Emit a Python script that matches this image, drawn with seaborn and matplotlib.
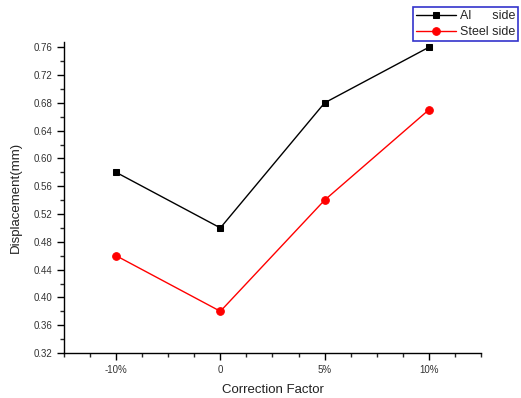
import matplotlib
matplotlib.use('Agg')
import matplotlib.pyplot as plt
import seaborn as sns
from matplotlib.ticker import MultipleLocator, AutoMinorLocator

# Data
factors = ['-10%', '0', '5%', '10%']
al_side = [0.58, 0.50, 0.68, 0.76]
steel_side = [0.46, 0.38, 0.54, 0.67]

sns.set_style('ticks')
plt.rcParams['font.family'] = ['Liberation Sans', 'DejaVu Sans']

fig = plt.figure(figsize=(5.21, 3.98), dpi=100)
ax = fig.add_axes([0.1228, 0.1131, 0.8004, 0.7821])

pos = list(range(len(factors)))
sns.lineplot(x=pos, y=al_side, ax=ax, color='black', marker='s', markersize=5,
             markeredgecolor='black', linewidth=1, label='Al      side')
sns.lineplot(x=pos, y=steel_side, ax=ax, color='red', marker='o', markersize=5.5,
             markeredgecolor='red', linewidth=1, label='Steel side')

ax.set_xlim(-0.5, 3.5)
ax.set_ylim(0.32, 0.768)
ax.set_xticks(pos)
ax.set_xticklabels(factors)
ax.xaxis.set_minor_locator(MultipleLocator(0.25))
ax.yaxis.set_major_locator(MultipleLocator(0.04))
ax.yaxis.set_minor_locator(AutoMinorLocator(2))
ax.yaxis.set_major_formatter(plt.FormatStrFormatter('%.2f'))

ax.tick_params(axis='both', which='major', direction='out', length=5, width=1,
               labelsize=7, colors='black', labelcolor='#333333')
ax.tick_params(axis='x', which='major', pad=4)
ax.tick_params(axis='both', which='minor', direction='out', length=3, width=1)

for side in ['top', 'right']:
    ax.spines[side].set_visible(False)
for side in ['left', 'bottom']:
    ax.spines[side].set_linewidth(1)
    ax.spines[side].set_color('black')

ax.set_xlabel('Correction Factor', fontsize=9.5, color='#222222', labelpad=6)
ax.set_ylabel('Displacement(mm)', fontsize=9.5, color='#222222', labelpad=8)

ax.get_legend().remove()
handles, labels = ax.get_legend_handles_labels()
leg = fig.legend(handles, labels, loc='upper right', bbox_to_anchor=(0.995, 0.983),
                 prop={'size': 9}, frameon=True, fancybox=False, handlelength=3.2,
                 borderpad=0.25, labelspacing=0.35, handletextpad=0.3,
                 borderaxespad=0)
leg.get_frame().set_edgecolor('#3333cc')
leg.get_frame().set_linewidth(1.2)
leg.get_frame().set_alpha(1)

fig.savefig('out.png', dpi=100)
